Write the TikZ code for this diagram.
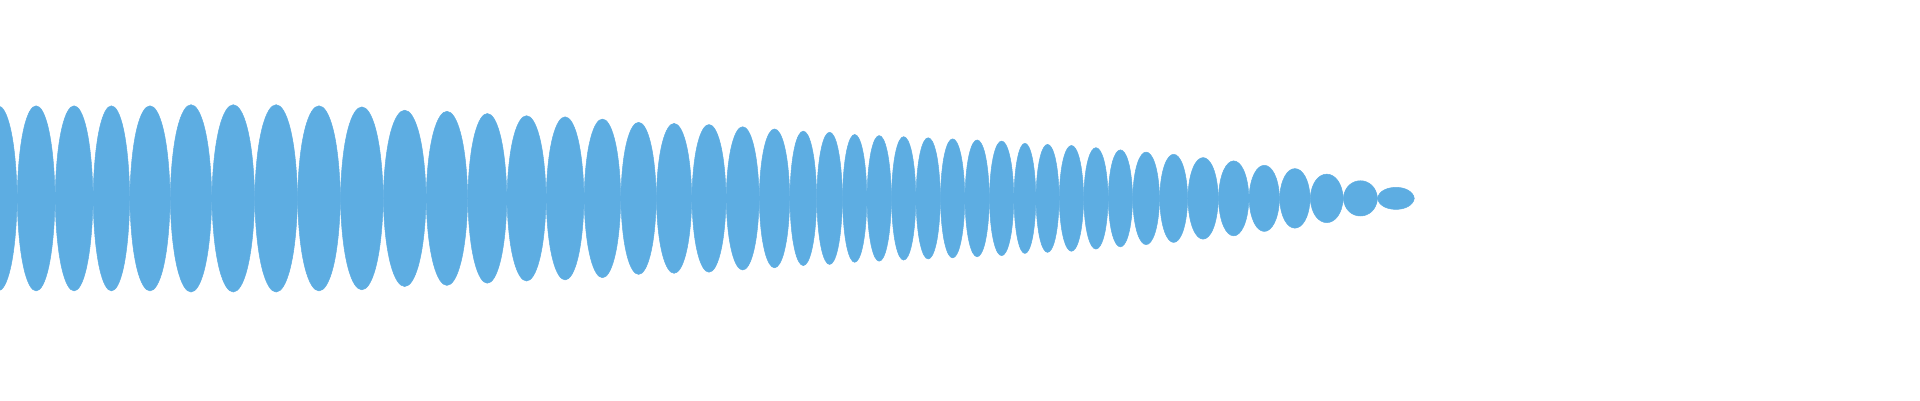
\documentclass[tikz,border=0pt]{standalone}
\definecolor{wave}{HTML}{5DADE2}
\begin{document}
\begin{tikzpicture}[x=1.2245pt,y=-1.2245pt,lobe/.style={fill=wave,draw=wave,line width=0.5pt}]
\useasboundingbox (0,0) rectangle (1568,326.7);
\clip (0,0) rectangle (1568,326.7);
\foreach \a/\b/\h in {-17/14/84,14/45/84,45/76/84,76/106/84,106/139/84,139/173/85,173/208/85,208/243/85,243/278/84,278/313/83,313/348/80,348/382/79,382/414/77,414/446/75,446/477/74,477/507/72,507/536/69,536/565/68,565/593/67,593/620/65,620/645/63,645/667/61,667/688/60,688/708/58,708/728/57,728/748/56,748/768/55,768/788/54,788/808/53,808/828/52,828/846/50,846/865/49,865/885/48,885/905/46,905/925/44,925/947/42,947/970/40,970/995/37,995/1020/34,1020/1045/30,1045/1070/27,1070/1097/22,1097/1125/16,1125/1155/10}{
  \path[lobe] (\a,162) .. controls ({\a+0.06*(\b-\a)},{162-1.2*\h}) and ({\b-0.06*(\b-\a)},{162-1.2*\h}) .. (\b,162)
    .. controls ({\b-0.06*(\b-\a)},{162+1.2*\h}) and ({\a+0.06*(\b-\a)},{162+1.2*\h}) .. (\a,162) -- cycle;
}
\end{tikzpicture}
\end{document}
